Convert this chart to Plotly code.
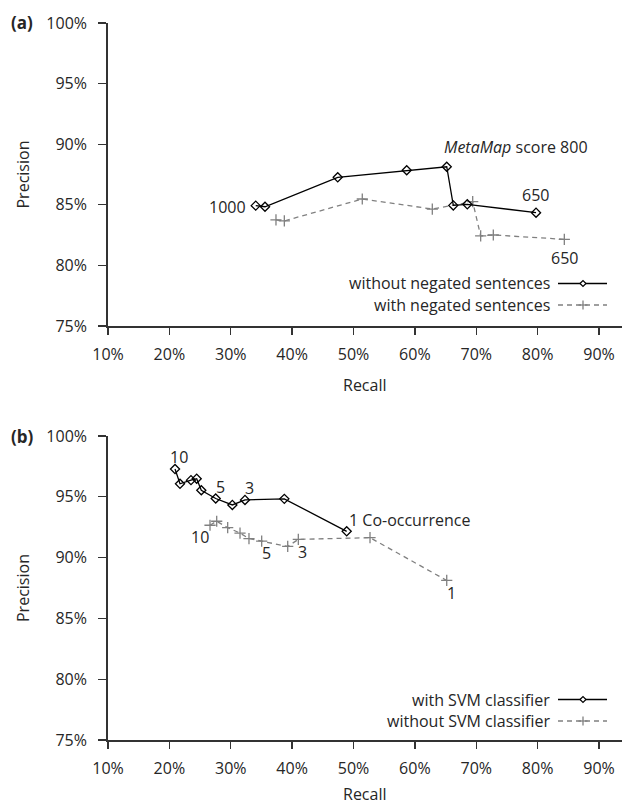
import plotly.graph_objects as go

W, H = 624, 806

# ---------------- data ----------------
# Panel (a): MetaMap score thresholds
a_without_recall = [34.07, 35.58, 47.43, 58.67, 65.19, 66.26, 68.54, 79.74]
a_without_prec = [84.93, 84.84, 87.27, 87.85, 88.14, 84.95, 85.04, 84.35]
a_with_recall = [37.37, 38.73, 51.43, 62.84, 69.42, 70.72, 72.78, 84.35]
a_with_prec = [83.75, 83.67, 85.48, 84.65, 85.26, 82.43, 82.51, 82.15]

# Panel (b): co-occurrence thresholds
b_svm_recall = [20.92, 21.73, 23.52, 24.45, 25.20, 27.55, 30.26, 32.32, 38.73, 48.89]
b_svm_prec = [97.28, 96.07, 96.37, 96.49, 95.54, 94.86, 94.33, 94.74, 94.83, 92.16]
b_nosvm_recall = [26.62, 27.71, 29.50, 31.51, 32.97, 35.04, 39.28, 41.01, 52.69, 65.19]
b_nosvm_prec = [92.66, 92.99, 92.46, 92.02, 91.56, 91.36, 90.92, 91.50, 91.64, 88.12]

x_ticks = [10, 20, 30, 40, 50, 60, 70, 80, 90]
x_tick_labels = ["10%", "20%", "30%", "40%", "50%", "60%", "70%", "80%", "90%"]
y_ticks = [75, 80, 85, 90, 95, 100]
y_tick_labels = ["75%", "80%", "85%", "90%", "95%", "100%"]

legend_a = ["without negated sentences", "with negated sentences"]
legend_b = ["with SVM classifier", "without SVM classifier"]

# ---------------- style ----------------
FONT = "Open Sans"
TXT = "#262626"
AX = "#333333"
GRAY = "#808080"
FS = 16


def px(x):
    return x / W


def py(y):
    return 1 - y / H


fig = go.Figure()

solid = dict(color="black", width=1.3)
dashed = dict(color=GRAY, width=1.3, dash="5px,4px")
dia = dict(symbol="diamond-open", size=7, color="black", line=dict(width=1.3, color="black"))
crs = dict(symbol="cross-thin-open", size=8, color=GRAY, line=dict(width=1.3, color=GRAY))

fig.add_trace(go.Scatter(x=a_with_recall, y=a_with_prec, mode="lines+markers",
                         line=dashed, marker=crs, xaxis="x", yaxis="y", showlegend=False))
fig.add_trace(go.Scatter(x=a_without_recall, y=a_without_prec, mode="lines+markers",
                         line=solid, marker=dia, xaxis="x", yaxis="y", showlegend=False))
fig.add_trace(go.Scatter(x=b_nosvm_recall, y=b_nosvm_prec, mode="lines+markers",
                         line=dashed, marker=crs, xaxis="x2", yaxis="y2", showlegend=False))
fig.add_trace(go.Scatter(x=b_svm_recall, y=b_svm_prec, mode="lines+markers",
                         line=solid, marker=dia, xaxis="x2", yaxis="y2", showlegend=False))

x0, x1 = 108, 622
px_per = 61.375 / 10.0
xrange_ = [10, 10 + (x1 - x0) / px_per]

axis_common = dict(
    showline=True, linecolor=AX, linewidth=1.8, showgrid=False, zeroline=False,
    ticks="outside", tickcolor=AX, tickwidth=1.3, automargin=False, tickmode="array",
    tickfont=dict(family=FONT, size=FS, color=TXT),
)

xa = dict(axis_common, domain=[px(x0), px(x1)], range=xrange_, tickvals=x_ticks,
          ticktext=x_tick_labels, ticklen=7, ticklabelstandoff=6)
ya_kw = dict(range=[75, 100], tickvals=y_ticks, ticktext=y_tick_labels, ticklen=8,
             ticklabelstandoff=8)

fig.update_layout(
    template="none",
    width=W, height=H, margin=dict(l=0, r=0, t=0, b=0, pad=0), autosize=False,
    paper_bgcolor="white", plot_bgcolor="white",
    font=dict(family=FONT, size=FS, color=TXT),
    xaxis=dict(xa, anchor="y"),
    yaxis=dict(axis_common, domain=[py(326), py(23)], anchor="x", **ya_kw),
    xaxis2=dict(xa, anchor="y2"),
    yaxis2=dict(axis_common, domain=[py(740), py(436)], anchor="x2", **ya_kw),
    hovermode=False,
)

ann = []


def paper_text(text, x, y, xanchor="center", angle=0, size=FS, bold=False):
    t = f"<b>{text}</b>" if bold else text
    ann.append(dict(text=t, x=px(x), y=py(y), xref="paper", yref="paper", xanchor=xanchor,
                    yanchor="middle", showarrow=False, textangle=angle, borderpad=0,
                    font=dict(family=FONT, size=size, color=TXT)))


def data_text(text, x, y, xr, yr, xanchor="center"):
    ann.append(dict(text=text, x=x, y=y, xref=xr, yref=yr, xanchor=xanchor, yanchor="middle",
                    showarrow=False, font=dict(family=FONT, size=FS, color=TXT)))


# axis titles and panel labels
paper_text("Precision", 23, 174.5, angle=-90)
paper_text("Precision", 23, 588, angle=-90)
paper_text("Recall", 365, 385)
paper_text("Recall", 365, 794)
paper_text("(a)", 22, 22, bold=True, size=17)
paper_text("(b)", 22, 437, bold=True, size=17)

# panel (a) point labels
data_text("1000", 32.8, 84.82, "x", "y", xanchor="right")
data_text("<i>MetaMap</i> score 800", 64.4, 89.77, "x", "y", xanchor="left")
data_text("650", 79.7, 85.8, "x", "y")
data_text("650", 84.3, 80.6, "x", "y")

# panel (b) point labels
data_text("10", 21.5, 98.27, "x2", "y2")
data_text("5", 28.4, 95.82, "x2", "y2")
data_text("3", 33.1, 95.71, "x2", "y2")
data_text("1 Co-occurrence", 49.0, 93.07, "x2", "y2", xanchor="left")
data_text("10", 25.0, 91.67, "x2", "y2")
data_text("5", 35.9, 90.35, "x2", "y2")
data_text("3", 41.7, 90.43, "x2", "y2")
data_text("1", 65.9, 87.13, "x2", "y2")

# manual legends (text left, sample right)
shapes = []


def legend_entry(label, y, is_solid):
    paper_text(label, 551, y, xanchor="right")
    lx0, lx1, cx = 558, 607, 583
    if is_solid:
        shapes.append(dict(type="line", xref="paper", yref="paper", x0=px(lx0), x1=px(lx1),
                           y0=py(y), y1=py(y), line=dict(color="black", width=1.3)))
        d = 3
        path = (f"M {px(cx - d)} {py(y)} L {px(cx)} {py(y - d)} L {px(cx + d)} {py(y)} "
                f"L {px(cx)} {py(y + d)} Z")
        shapes.append(dict(type="path", xref="paper", yref="paper", path=path,
                           fillcolor="white", line=dict(color="black", width=1.2)))
    else:
        shapes.append(dict(type="line", xref="paper", yref="paper", x0=px(lx0), x1=px(lx1),
                           y0=py(y), y1=py(y), line=dict(color=GRAY, width=1.3, dash="5px,4px")))
        d = 4.5
        shapes.append(dict(type="line", xref="paper", yref="paper", x0=px(cx - d), x1=px(cx + d),
                           y0=py(y), y1=py(y), line=dict(color=GRAY, width=1.3)))
        shapes.append(dict(type="line", xref="paper", yref="paper", x0=px(cx), x1=px(cx),
                           y0=py(y - d), y1=py(y + d), line=dict(color=GRAY, width=1.3)))


legend_entry(legend_a[0], 283.5, True)
legend_entry(legend_a[1], 305, False)
legend_entry(legend_b[0], 699.5, True)
legend_entry(legend_b[1], 721, False)

fig.update_layout(annotations=ann, shapes=shapes)

# remove the browser's default page margin so the 624x806 figure fills the window exactly
fig.write_html(
    "out.html",
    config={"displayModeBar": False, "staticPlot": True},
    post_script="document.body.style.margin='0';document.body.style.overflow='hidden';",
)
